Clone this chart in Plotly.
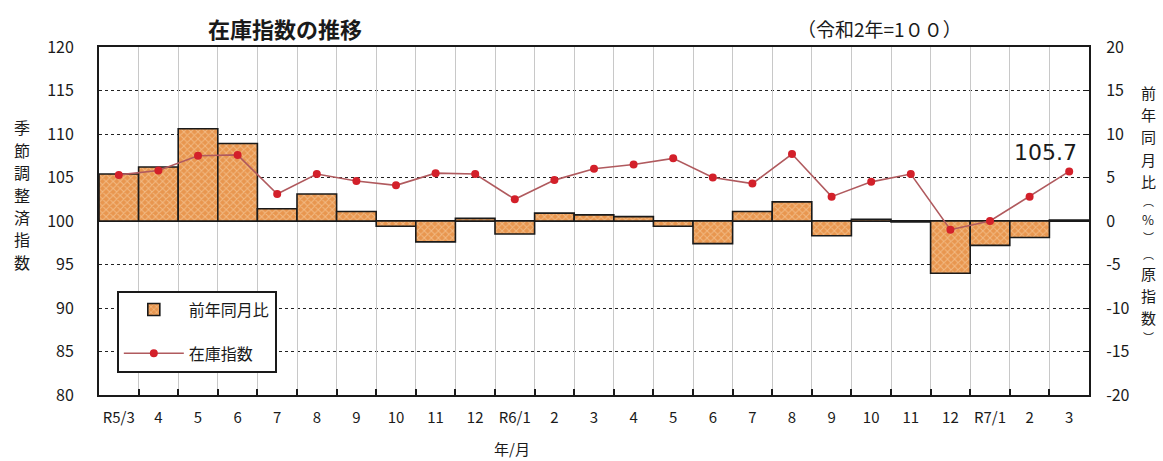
import plotly.graph_objects as go

# Months (R5/3 .. R7/3)
months = ["R5/3", "4", "5", "6", "7", "8", "9", "10", "11", "12",
          "R6/1", "2", "3", "4", "5", "6", "7", "8", "9", "10", "11", "12",
          "R7/1", "2", "3"]

# Seasonally adjusted inventory index (2020 = 100)
inventory_index = [105.3, 105.8, 107.5, 107.6, 103.1, 105.4, 104.6, 104.1, 105.5, 105.4,
                   102.5, 104.7, 106.0, 106.5, 107.2, 105.0, 104.3, 107.7, 102.8, 104.5,
                   105.4, 99.0, 100.0, 102.8, 105.7]

# Year-on-year change of the original index (%)
yoy_change = [5.4, 6.2, 10.6, 8.9, 1.4, 3.1, 1.1, -0.6, -2.4, 0.3,
              -1.5, 0.9, 0.7, 0.5, -0.6, -2.6, 1.1, 2.2, -1.7, 0.2,
              -0.1, -6.0, -2.8, -1.9, 0.1]

left_ticks = [80, 85, 90, 95, 100, 105, 110, 115, 120]
right_ticks = [-20, -15, -10, -5, 0, 5, 10, 15, 20]

FONT = "Noto Sans CJK JP"
pos = list(range(len(months)))
bounds = [p - 0.5 for p in pos] + [pos[-1] + 0.5]

# plot area in page pixels (used for placing free text)
PL, PR, PT, PB = 99, 1089, 47, 395


def px_x(x):
    return (x - PL) / (PR - PL)


def px_y(y):
    return (PB - y) / (PB - PT)


fig = go.Figure()

fig.add_trace(go.Bar(
    x=pos, y=yoy_change, name="前年同月比",
    xaxis="x", yaxis="y",
    width=1.0,
    marker=dict(
        color="#E8964F",
        line=dict(color="#1a1a1a", width=1.6),
        pattern=dict(shape="x", fgcolor="#FADDB8", bgcolor="#E8964F",
                     size=5, solidity=0.35),
    ),
    legendgroup="a",
))

fig.add_trace(go.Scatter(
    x=pos, y=inventory_index, name="在庫指数",
    xaxis="x", yaxis="y2",
    mode="lines+markers",
    line=dict(color="#B05A5E", width=1.6),
    marker=dict(color="#D3202A", size=8),
    legendgroup="b",
))

# empty trace so the boundary axis gets its own subplot
fig.add_trace(go.Scatter(x=[None], y=[None], xaxis="x2", yaxis="y",
                         showlegend=False, hoverinfo="skip"))

fig.update_layout(
    width=1163, height=461,
    margin=dict(l=PL, r=1163 - PR, t=PT, b=461 - PB),
    paper_bgcolor="white", plot_bgcolor="white",
    font=dict(family=FONT, color="#1a1a1a", size=14),
    barmode="overlay",
    xaxis=dict(
        range=[-0.5, len(months) - 0.5],
        tickmode="array", tickvals=pos, ticktext=months,
        showgrid=False, zeroline=False,
        ticks="", ticklabelstandoff=8,
        showline=True, linecolor="#1a1a1a", linewidth=2, mirror=True,
        tickfont=dict(size=15),
    ),
    xaxis2=dict(
        overlaying="x", anchor="y", side="bottom",
        range=[-0.5, len(months) - 0.5],
        tickmode="array", tickvals=bounds,
        showticklabels=False,
        ticks="inside", ticklen=6, tickwidth=1.5, tickcolor="#1a1a1a",
        showgrid=True, gridcolor="#C8C8C8", gridwidth=1,
        zeroline=False, showline=False,
    ),
    yaxis=dict(
        side="right",
        range=[-20, 20],
        tickmode="array", tickvals=right_ticks,
        ticktext=[str(v) for v in right_ticks],
        showgrid=True, gridcolor="#222222", gridwidth=1, griddash="dot",
        zeroline=True, zerolinecolor="#1a1a1a", zerolinewidth=2,
        ticks="inside", ticklen=6, tickcolor="#1a1a1a",
        showline=True, linecolor="#1a1a1a", linewidth=2,
        ticklabelstandoff=12,
        tickfont=dict(size=16),
    ),
    yaxis2=dict(
        overlaying="y", side="left", anchor="x",
        range=[80, 120],
        tickmode="array", tickvals=left_ticks,
        ticktext=[str(v) for v in left_ticks],
        showgrid=False, zeroline=False,
        ticks="",
        showline=True, linecolor="#1a1a1a", linewidth=2,
        ticklabelstandoff=20,
        tickfont=dict(size=16),
    ),
    legend=dict(
        x=0.018, y=0.30, xanchor="left", yanchor="top",
        bgcolor="white", bordercolor="#1a1a1a", borderwidth=2,
        font=dict(size=16, family=FONT),
        tracegroupgap=20, itemwidth=60,
        traceorder="grouped",
    ),
    showlegend=True,
)

annotations = [
    dict(text="<b>在庫指数の推移</b>", xref="paper", yref="paper",
         x=px_x(285), y=px_y(28), xanchor="center", yanchor="middle",
         showarrow=False, font=dict(size=22, family=FONT)),
    dict(text="（令和2年=1００）", xref="paper", yref="paper",
         x=px_x(879), y=px_y(28), xanchor="center", yanchor="middle",
         showarrow=False, font=dict(size=19, family=FONT)),
    dict(text="年/月", xref="paper", yref="paper",
         x=px_x(512), y=px_y(448), xanchor="center", yanchor="middle",
         showarrow=False, font=dict(size=15, family=FONT)),
    dict(text=f"{inventory_index[-1]}", xref="x", yref="y2",
         x=pos[-1], y=inventory_index[-1], xanchor="right", yanchor="bottom",
         xshift=10, yshift=4, showarrow=False,
         font=dict(size=22, family="DejaVu Sans", color="#1a1a1a")),
]

# vertical left title, one character per line
left_title = "季節調整済指数"
for i, ch in enumerate(left_title):
    annotations.append(dict(
        text=ch, xref="paper", yref="paper",
        x=px_x(22), y=px_y(127 + 22.5 * i), xanchor="center", yanchor="middle",
        showarrow=False, font=dict(size=16, family=FONT)))

# vertical right title; brackets are set smaller so the column stays compact
right_title = [("前", 15), ("年", 15), ("同", 15), ("月", 15), ("比", 15),
               ("︵", 11), ("%", 13), ("︶", 11), ("︵", 11),
               ("原", 15), ("指", 15), ("数", 15), ("︶", 11)]
LINE = 1.46
y_cur = 92
prev = None
for ch, size in right_title:
    if prev is not None:
        y_cur += LINE * (prev + size) / 2 + 0.5
    annotations.append(dict(
        text=ch, xref="paper", yref="paper",
        x=px_x(1148), y=px_y(y_cur), xanchor="center", yanchor="middle",
        showarrow=False, font=dict(size=size, family=FONT)))
    prev = size

fig.update_layout(annotations=annotations)

fig.write_html("out.html")
